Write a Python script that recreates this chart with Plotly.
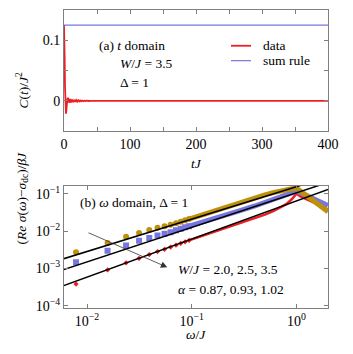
# C(t) in the time domain and Re sigma(omega) - sigma_dc in the frequency domain

import plotly.graph_objects as go
from plotly.subplots import make_subplots

# (a) t domain, W/J = 3.5
t_data = [0, 0.5, 1.0, 1.5, 2.0, 2.5, 3.0, 3.5, 4.0, 5.0, 6.0, 7.0, 8.0, 9.5, 11, 12.5,
          14, 15.5, 17, 18.5, 20, 21.5, 23, 24.5, 26, 27.5, 29, 30.5, 32, 33.5, 35,
          36.5, 38, 40, 400]
c_data = [0.125, 0.11, 0.07, 0.025, -0.005, -0.018, -0.021, -0.016, -0.008, 0.002,
          0.005, 0.002, -0.003, 0.003, -0.0025, 0.0022, -0.002, 0.0018, -0.0016,
          0.0014, -0.0012, 0.001, -0.0009, 0.0008, -0.0007, 0.0006, -0.0005, 0.0004,
          -0.0004, 0.0003, -0.0003, 0.0002, -0.0002, 0, 0]
t_rule = [0, 400]
c_rule = [0.125, 0.125]

# (b) omega domain, W/J = 2.0, 2.5, 3.5
omega_lo = [0.00785, 0.0157, 0.0236, 0.0314, 0.0393, 0.0471, 0.0550, 0.0628,
            0.0707, 0.0785, 0.0864, 0.0942]
gold_lo = [2.69e-3, 4.79e-3, 7.08e-3, 8.91e-3, 1.07e-2, 1.23e-2, 1.35e-2, 1.48e-2,
           1.62e-2, 1.78e-2, 1.95e-2, 2.09e-2]
blue_lo = [1.45e-3, 2.95e-3, 4.07e-3, 5.5e-3, 6.46e-3, 7.59e-3, 8.51e-3, 9.33e-3,
           1.05e-2, 1.15e-2, 1.26e-2, 1.35e-2]
red_lo = [3.8e-4, 9.1e-4, 1.41e-3, 1.86e-3, 2.34e-3, 2.82e-3, 3.24e-3, 3.72e-3,
          4.17e-3, 4.68e-3, 5.13e-3, 5.62e-3]

omega_hi = [0.0942, 0.15, 0.2, 0.3, 0.4, 0.5, 0.6, 0.7, 0.8, 0.9, 1.0, 1.1, 1.3, 1.6, 2.0]
gold_hi = [2.09e-2, 3.24e-2, 4.17e-2, 6.03e-2, 7.76e-2, 9.33e-2, 0.107, 0.120, 0.129,
           0.135, 0.141, 0.115, 0.081, 0.052, 0.033]
blue_hi = [1.35e-2, 1.95e-2, 2.51e-2, 3.63e-2, 4.68e-2, 5.75e-2, 6.92e-2, 8.13e-2,
           9.33e-2, 0.107, 0.117, 0.105, 0.083, 0.063, 0.048]
red_hi = [5.62e-3, 8.7e-3, 1.12e-2, 1.66e-2, 2.19e-2, 2.75e-2, 3.39e-2, 4.17e-2,
          5.25e-2, 7.08e-2, 0.100, 0.083, 0.068, 0.052, 0.038]

# power-law fits, alpha = 0.87, 0.93, 1.02
fit_x = [0.006, 2.0]
fit_gold = [1.82e-3, 0.28]
fit_blue = [9.3e-4, 0.20]
fit_red = [3.47e-4, 0.13]

RED = 'rgb(238,30,36)'
BLUE = 'rgb(118,118,222)'
GOLD = 'rgb(190,145,10)'
AXC = '#808080'
FONT = 'Liberation Serif'

# page body has an 8px margin, so everything below is in page pixels minus 8
OFF = 8
W, H = 345, 346
L, R, T, B = 56, 25, 0, 46
PW, PH = W - L - R, H - T - B


def px(sx):
    return (sx - OFF - L) / PW


def py(sy):
    return (T + PH - (sy - OFF)) / PH


fig = make_subplots(rows=2, cols=1)

fig.add_trace(go.Scatter(x=t_rule, y=c_rule, mode='lines', showlegend=False,
                         line=dict(color=BLUE, width=1.2)), row=1, col=1)
fig.add_trace(go.Scatter(x=t_data, y=c_data, mode='lines', showlegend=False,
                         line=dict(color=RED, width=1.8)), row=1, col=1)

for xs, ys, col, sym, sz, w in [
        (red_lo, red_hi, RED, 'diamond', 4, 2.5),
        (blue_lo, blue_hi, BLUE, 'square', 6, 5),
        (gold_lo, gold_hi, GOLD, 'circle', 6, 5)]:
    fig.add_trace(go.Scatter(x=omega_lo, y=xs, mode='markers', showlegend=False,
                             marker=dict(symbol=sym, size=sz, color=col)), row=2, col=1)
    fig.add_trace(go.Scatter(x=omega_hi, y=ys, mode='lines', showlegend=False,
                             line=dict(color=col, width=w)), row=2, col=1)

for fy in [fit_gold, fit_blue, fit_red]:
    fig.add_trace(go.Scatter(x=fit_x, y=fy, mode='lines', showlegend=False,
                             line=dict(color='black', width=1.5)), row=2, col=1)

axis_style = dict(showline=True, linecolor=AXC, linewidth=1, mirror='ticks',
                  ticks='inside', tickcolor=AXC, ticklen=4, showgrid=False,
                  zeroline=False, tickfont=dict(family=FONT, size=14, color='black'))

fig.update_xaxes(range=[0, 400], tickvals=[0, 50, 100, 150, 200, 250, 300, 350, 400],
                 ticktext=['0', '', '100', '', '200', '', '300', '', '400'],
                 row=1, col=1, **axis_style)
fig.update_yaxes(range=[-0.05, 0.15], tickvals=[-0.05, 0, 0.05, 0.1, 0.15],
                 ticktext=['', '0', '', '0.1', ''], domain=[py(130), 1],
                 row=1, col=1, **axis_style)
fig.update_xaxes(type='log', range=[-2.22, 0.301], tickvals=[0.01, 0.1, 1],
                 ticktext=['10<sup>−2</sup>', '10<sup>−1</sup>', '10<sup>0</sup>'],
                 row=2, col=1, **axis_style)
fig.update_yaxes(type='log', range=[-4.06, -0.79], tickvals=[1e-4, 1e-3, 1e-2, 1e-1],
                 ticktext=['10<sup>−4</sup>', '10<sup>−3</sup>', '10<sup>−2</sup>',
                           '10<sup>−1</sup>'], domain=[0, py(185)],
                 row=2, col=1, **axis_style)

txt = dict(family=FONT, size=13.5, color='black')
notes = [
    (97, 44, '(a) <i>t</i> domain'),
    (118, 62, '<i>W</i>/<i>J</i> = 3.5'),
    (118, 81, 'Δ = 1'),
    (261, 44, 'data'),
    (261, 59, 'sum rule'),
    (78, 202, '(b) <i>ω</i> domain, Δ = 1'),
    (176, 269, '<i>W</i>/<i>J</i> = 2.0, 2.5, 3.5'),
    (176, 289, '<i>α</i> = 0.87, 0.93, 1.02'),
]
for sx, sy, s in notes:
    fig.add_annotation(x=px(sx), y=py(sy), xref='paper', yref='paper', text=s,
                       showarrow=False, xanchor='left', yanchor='middle', font=txt)

# legend keys
for sy, col, w in [(44, RED, 1.8), (59, BLUE, 1.2)]:
    fig.add_shape(type='line', xref='paper', yref='paper', x0=px(231), x1=px(251),
                  y0=py(sy), y1=py(sy), line=dict(color=col, width=w))

# axis titles
fig.add_annotation(x=px(12), y=py(68), xref='paper', yref='paper',
                   text='<i>C</i>(<i>t</i>)/<i>J</i><sup>2</sup>', textangle=-90,
                   showarrow=False, font=txt)
fig.add_annotation(x=px(12), y=py(246), xref='paper', yref='paper',
                   text='(<i>Re</i> <i>σ</i>(<i>ω</i>)−<i>σ</i><sub>dc</sub>)/<i>βJ</i>',
                   textangle=-90, showarrow=False, font=txt)
fig.add_annotation(x=px(196), y=py(163), xref='paper', yref='paper',
                   text='<i>tJ</i>', showarrow=False, font=txt)
fig.add_annotation(x=px(196), y=py(344), xref='paper', yref='paper',
                   text='<i>ω</i>/<i>J</i>', showarrow=False, font=txt)

# arrow through the three curves
fig.add_annotation(x=-1.234, y=-2.97, ax=-2.0, ay=-2.03, xref='x2', yref='y2',
                   axref='x2', ayref='y2', text='', showarrow=True, arrowhead=2,
                   arrowsize=1.6, arrowwidth=0.8, arrowcolor='#333333')

fig.update_layout(
    width=W, height=H, margin=dict(l=L, r=R, t=T, b=B),
    plot_bgcolor='white', paper_bgcolor='white',
    font=dict(family=FONT, size=14, color='black'),
    showlegend=False,
)
fig.write_html("out.html")
